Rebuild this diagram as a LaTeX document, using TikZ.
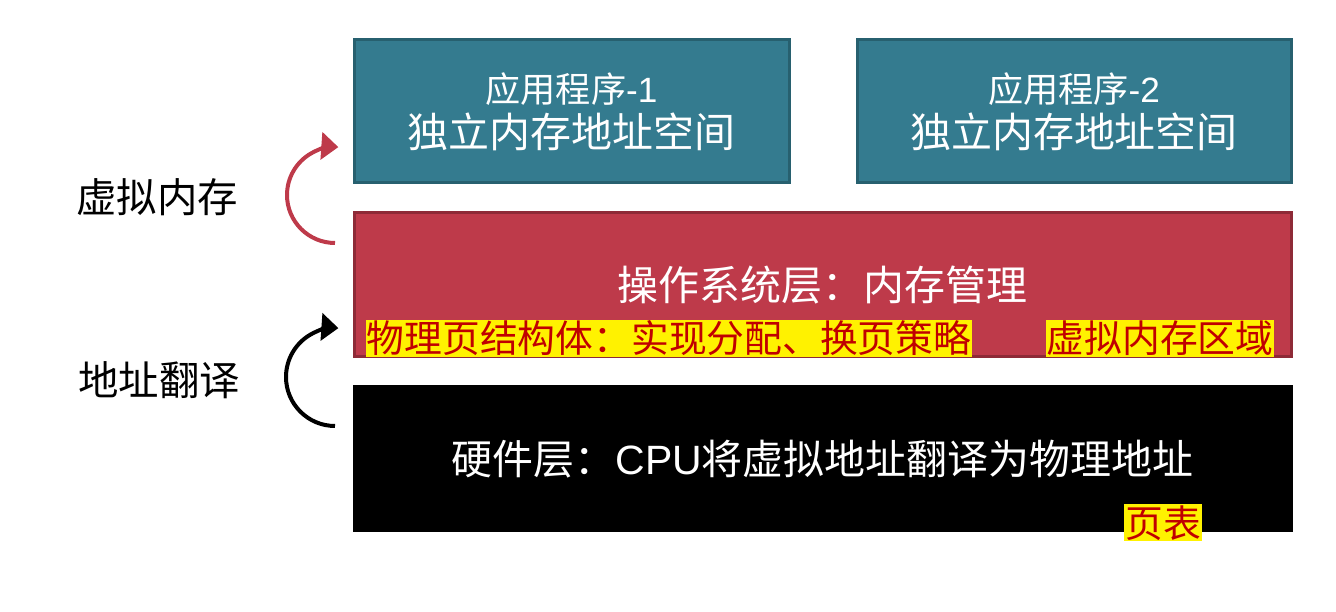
\documentclass[tikz,border=0pt]{standalone}
\usepackage{fontspec}
\setmainfont{Noto Sans CJK SC}
\newfontfamily\arial{Liberation Sans}
\usetikzlibrary{arrows.meta}
\definecolor{appteal}{HTML}{347B8F}
\definecolor{appedge}{HTML}{27606F}
\definecolor{osred}{HTML}{BE3A4A}
\definecolor{osedge}{HTML}{8E2A37}
\definecolor{markred}{HTML}{C00000}

\begin{document}
\begin{tikzpicture}[
    layer/.style={rectangle, draw, line width=0.06cm, inner sep=0pt, text=white, align=center, font=\fontsize{23.3}{25.6}\selectfont},
    hilite/.style={fill=yellow, text=markred, inner xsep=0.5pt, inner ysep=0pt, minimum height=0.74cm, font=\fontsize{21.5}{24}\selectfont},
    side/.style={font=\fontsize{23}{26}\selectfont},
    turn/.style={line width=0.08cm, -{Triangle[length=0.34cm, width=0.54cm]}}
]
                \useasboundingbox (0,0) rectangle (26.72,12.24);
                % top: the two programs
                \node[layer, fill=appteal, draw=appedge, minimum width=8.7cm, minimum height=2.86cm] (app1) at (11.43,10.01)
                    {{\fontsize{20}{25.6}\selectfont 应用程序{\arial -1}}\\独立内存地址空间};
                \node[layer, fill=appteal, draw=appedge, minimum width=8.68cm, minimum height=2.86cm] (app2) at (21.48,10.01)
                    {{\fontsize{20}{25.6}\selectfont 应用程序{\arial -2}}\\独立内存地址空间};
                % middle: operating system
                \node[layer, fill=osred, draw=osedge, minimum width=18.74cm, minimum height=2.88cm] (os) at (16.45,6.54)
                    {操作系统层：内存管理};
                \node[hilite] (pg) at (13.38,5.47) {物理页结构体：实现分配、换页策略};
                \node[hilite] (vma) at (23.20,5.47) {虚拟内存区域};
                % bottom: hardware
                \node[layer, fill=black, draw=black, minimum width=18.74cm, minimum height=2.88cm] (hw) at (16.45,3.06)
                    {硬件层：{\arial CPU}将虚拟地址翻译为物理地址};
                \node[hilite] (pt) at (23.26,1.78) {页表};
                % left side
                \node[side] (vm) at (3.14,8.30) {虚拟内存};
                \node[side] (tr) at (3.18,4.64) {地址翻译};
                \coordinate (vmfrom) at (6.70,7.38);
                \coordinate (trfrom) at (6.70,3.72);
                \draw[turn, osred] (vmfrom) arc[start angle=270, end angle=86, radius=0.96];
                \draw[turn, black] (trfrom) arc[start angle=270, end angle=86, radius=0.98];
            \end{tikzpicture}
\end{document}
